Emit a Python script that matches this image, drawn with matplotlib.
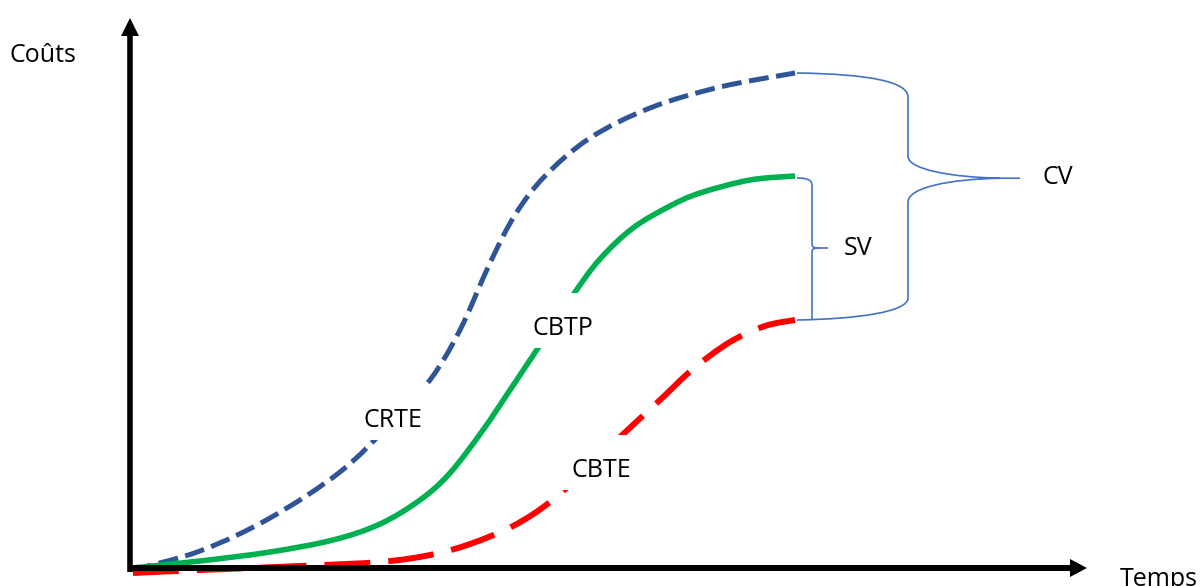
import numpy as np
import matplotlib
matplotlib.use("Agg")
import matplotlib.pyplot as plt
from matplotlib.path import Path
from matplotlib.patches import PathPatch, Polygon, Rectangle

plt.rcParams['font.family'] = ['Open Sans', 'DejaVu Sans']
plt.rcParams['lines.scale_dashes'] = False

# Cumulative cost curves over time (time, cost)
crte_t = [2, 70, 140, 210, 260, 300, 330, 360, 385, 415, 460, 520, 590, 665]
crte_c = [-2, 17, 50, 96, 144, 188, 238, 305, 353, 392, 430, 460, 481, 495]

cbtp_t = [2, 70, 140, 203, 250, 290, 320, 353, 380, 410, 443, 470, 503, 540, 570, 620, 665]
cbtp_c = [0, 7, 16, 28, 44, 68, 95, 138, 178, 223, 273, 309, 340, 362, 375, 388, 392]

cbte_t = [3, 70, 170, 250, 300, 340, 383, 420, 460, 490, 530, 563, 600, 635, 665]
cbte_c = [-5, -2, 2, 6, 13, 24, 42, 66, 102, 131, 168, 199, 226, 242, 248]

series_names = ["CRTE", "CBTP", "CBTE"]
label_pos = {"CRTE": (263, 141), "CBTP": (433, 233), "CBTE": (471, 91)}

BLUE = "#2F5597"
GREEN = "#00B050"
RED = "#FF0000"
BRACE = "#4472C4"


def smooth_path(xs, ys):
    """Catmull-Rom spline through the points, expressed as cubic Bezier segments."""
    pts = np.column_stack([xs, ys]).astype(float)
    n = len(pts)
    verts = [pts[0]]
    codes = [Path.MOVETO]
    for i in range(n - 1):
        p0 = pts[max(i - 1, 0)]
        p1 = pts[i]
        p2 = pts[i + 1]
        p3 = pts[min(i + 2, n - 1)]
        verts += [p1 + (p2 - p0) / 6.0, p2 - (p3 - p1) / 6.0, p2]
        codes += [Path.CURVE4] * 3
    return Path(verts, codes)


fig = plt.figure(figsize=(12, 5.86), dpi=100)
ax = fig.add_axes([0, 0, 1, 1])
ax.set_xlim(-130, 1070)
ax.set_ylim(-18, 568)
ax.axis("off")

# Curves
ax.add_patch(PathPatch(smooth_path(crte_t, crte_c), fill=False, edgecolor=BLUE,
                       lw=3.6, linestyle=(0, (14.4, 5.4)), capstyle="butt", zorder=2))
ax.add_patch(PathPatch(smooth_path(cbtp_t, cbtp_c), fill=False, edgecolor=GREEN,
                       lw=4.0, capstyle="butt", zorder=2))
ax.add_patch(PathPatch(smooth_path(cbte_t, cbte_c), fill=False, edgecolor=RED,
                       lw=4.3, linestyle=(0, (33, 13)), capstyle="butt", zorder=2))

# Axes with arrow heads
ax.plot([0, 0], [-4, 532], color="black", lw=4.0, solid_capstyle="butt", zorder=5)
ax.add_patch(Polygon([(-9, 532), (9, 532), (0, 550)], closed=True, color="black", lw=0, zorder=5))
ax.plot([-2, 940], [0, 0], color="black", lw=4.3, solid_capstyle="butt", zorder=5)
ax.add_patch(Polygon([(940, 9), (940, -9), (957, 0)], closed=True, color="black", lw=0, zorder=5))

# Curly braces for the variances
x0 = crte_t[-1] + 2
top, sv_top, bot = crte_c[-1], cbtp_c[-1], cbte_c[-1]

# CV brace (from CRTE end to CBTE end)
xv, xtip = x0 + 111, x0 + 223
mid = bot + 0.574 * (top - bot)
cv_verts = [
    (x0, top), (x0 + 73, top - 1), (xv, top - 9), (xv, top - 24),
    (xv, mid + 22),
    (xv, mid + 9), (xv + 42, mid + 1), (xtip - 20, mid),
    (xtip, mid),
    (xtip - 20, mid), (xv + 42, mid - 1), (xv, mid - 9), (xv, mid - 24),
    (xv, bot + 22),
    (xv, bot + 8), (x0 + 60, bot + 1), (x0, bot),
]
cv_codes = [Path.MOVETO] + [Path.CURVE4] * 3 + [Path.LINETO] + [Path.CURVE4] * 3 + \
           [Path.LINETO] + [Path.MOVETO] + [Path.CURVE4] * 3 + [Path.LINETO] + [Path.CURVE4] * 3
ax.add_patch(PathPatch(Path(cv_verts, cv_codes), fill=False, edgecolor=BRACE, lw=1.2, zorder=3))

# SV brace (from CBTP end to CBTE end)
sx, stip = x0 + 15, x0 + 31
smid = (sv_top + bot) / 2.0
sv_verts = [
    (x0, sv_top - 2), (x0 + 10, sv_top - 2), (sx, sv_top - 4), (sx, sv_top - 9),
    (sx, smid + 4),
    (sx, smid + 1), (sx + 2, smid), (sx + 6, smid),
    (stip, smid),
    (sx + 6, smid), (sx + 2, smid), (sx, smid - 1), (sx, smid - 4),
    (sx, bot + 1),
]
sv_codes = [Path.MOVETO] + [Path.CURVE4] * 3 + [Path.LINETO] + [Path.CURVE4] * 3 + \
           [Path.LINETO] + [Path.MOVETO] + [Path.CURVE4] * 3 + [Path.LINETO]
ax.add_patch(PathPatch(Path(sv_verts, sv_codes), fill=False, edgecolor=BRACE, lw=1.2, zorder=3))

# Curve labels on white boxes
FS = 18
for name in series_names:
    cx, cy = label_pos[name]
    ax.add_patch(Rectangle((cx - 42, cy - 13), 84, 55, facecolor="white", edgecolor="none", zorder=3))
    ax.text(cx, cy, name, ha="center", va="baseline", fontsize=FS, color="black", zorder=4)

ax.text(xv - 50, smid - 7, "SV", ha="center", va="baseline", fontsize=FS, zorder=4)
ax.text(xtip + 38, mid - 6, "CV", ha="center", va="baseline", fontsize=FS, zorder=4)
ax.text(-87, 506, "Coûts", ha="center", va="baseline", fontsize=FS, zorder=4)
ax.text(990, -18, "Temps", ha="left", va="baseline", fontsize=FS, zorder=4, clip_on=False)

fig.savefig("out.png", dpi=100, facecolor="white")
